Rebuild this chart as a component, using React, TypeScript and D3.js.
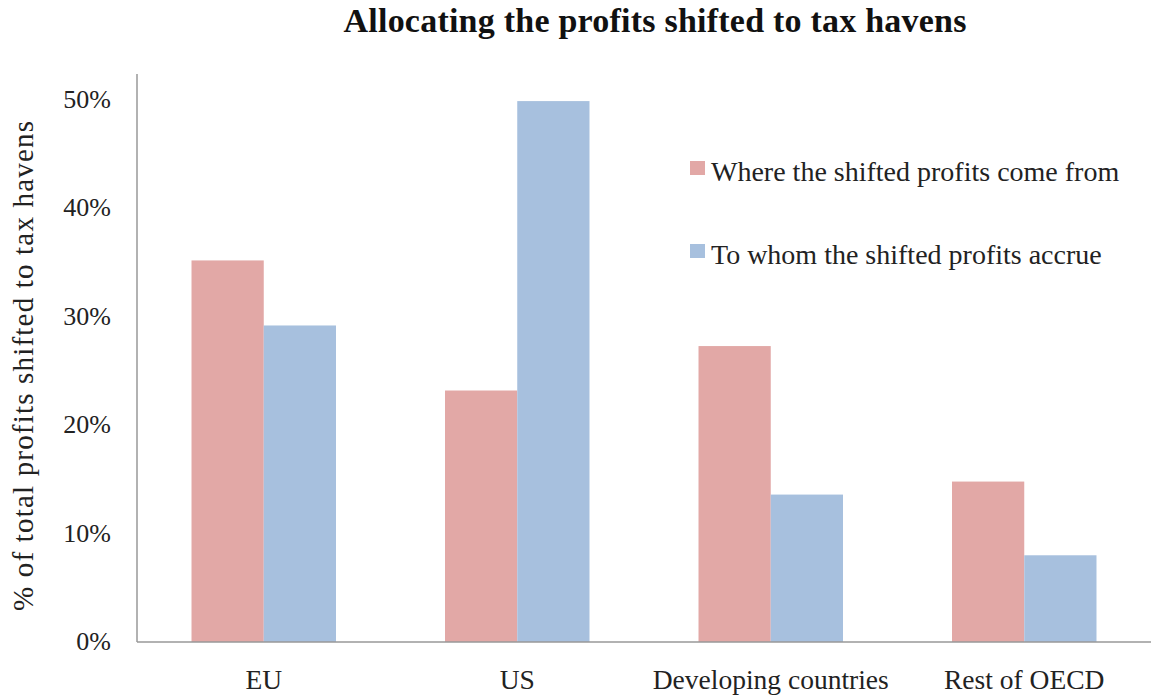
import React from "react";
import * as d3 from "d3";

const categories = ["EU", "US", "Developing countries", "Rest of OECD"];
const seriesNames = ["Where the shifted profits come from", "To whom the shifted profits accrue"];
const comeFrom = [35.2, 23.2, 27.3, 14.8];
const accrue = [29.2, 49.9, 13.6, 8.0];
const yTicks = [0, 10, 20, 30, 40, 50];
const colors = ["#E2A8A6", "#A7C0DE"];

const W = 1151;
const H = 698;
const FONT = "'Liberation Serif', 'DejaVu Serif', serif";

export default function App() {
  const left = 137;
  const right = 1151;
  const top = 74;
  const bottom = 642;
  const x = d3.scaleBand<string>().domain(categories).range([left, right]).paddingInner(0).paddingOuter(0);
  const groupW = x.bandwidth() * 0.57;
  const inner = d3.scaleBand<number>().domain([0, 1]).range([0, groupW]);
  const offset = (x.bandwidth() - groupW) / 2;
  const y = d3.scaleLinear().domain([0, 50]).range([bottom, 100]);
  const series = [comeFrom, accrue];

  return (
    <svg width={W} height={H} style={{ position: "absolute", left: 0, top: 0, background: "#fff" }} fontFamily={FONT}>
      <text x={655} y={32} textAnchor="middle" fontSize={34} fontWeight="bold" fill="#111" textLength={623} lengthAdjust="spacing">
        Allocating the profits shifted to tax havens
      </text>
      {series.map((vals, si) =>
        categories.map((c, ci) => (
          <rect
            key={`${si}-${ci}`}
            x={(x(c) as number) + offset + (inner(si) as number)}
            y={y(vals[ci])}
            width={inner.bandwidth()}
            height={bottom - y(vals[ci])}
            fill={colors[si]}
          />
        ))
      )}
      <line x1={left} x2={left} y1={top} y2={bottom} stroke="#999" strokeWidth={1.5} />
      <line x1={left} x2={right} y1={bottom} y2={bottom} stroke="#999" strokeWidth={1.5} />
      {yTicks.map((t) => (
        <text key={t} x={111} y={y(t) + 8} textAnchor="end" fontSize={26} fill="#222">
          {t}%
        </text>
      ))}
      {categories.map((c) => (
        <text key={c} x={(x(c) as number) + x.bandwidth() / 2} y={689} textAnchor="middle" fontSize={27.5} fill="#222">
          {c}
        </text>
      ))}
      <text transform={`translate(33,366) rotate(-90)`} textAnchor="middle" fontSize={29} fill="#222" textLength={490} lengthAdjust="spacing">
        % of total profits shifted to tax havens
      </text>
      {seriesNames.map((n, i) => (
        <g key={n} transform={`translate(690,${161 + i * 83})`}>
          <rect x={0} y={0} width={15} height={14} fill={colors[i]} />
          <text x={21} y={20} fontSize={28} fill="#222">
            {n}
          </text>
        </g>
      ))}
    </svg>
  );
}
